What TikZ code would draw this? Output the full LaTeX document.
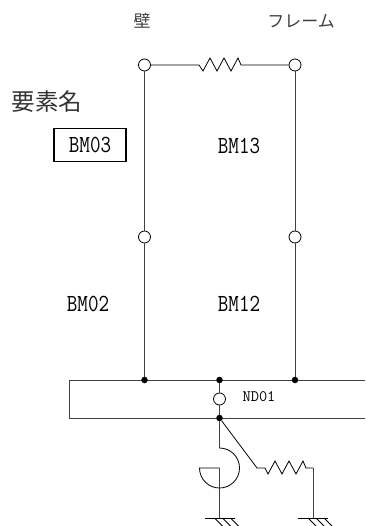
\documentclass[tikz,border=0pt]{standalone}
\usepackage{fontspec}
\newfontfamily\cjk{Noto Sans CJK JP}
\newcommand{\tallbm}[1]{\scalebox{1}[1.2]{#1}}
\begin{document}
\begin{tikzpicture}[x=1pt,y=-1pt]
\tikzstyle{every node}=[inner sep=0pt]
\tikzset{
  pin/.style={circle,draw,fill=white,minimum size=12pt,line width=0.8pt},
  joint/.style={circle,fill=black,minimum size=6.5pt},
  beam/.style={line width=0.9pt,draw=black!75},
  label/.style={font=\ttfamily\fontsize{20.5}{20.5}\selectfont,text=black},
  small/.style={font=\ttfamily\fontsize{16}{16}\selectfont,text=black},
  title/.style={font=\cjk\fontsize{17}{17}\selectfont\color{black!75}},
  zig/.style={line width=0.8pt}
}
\useasboundingbox (0,0) rectangle (365,526);
\clip (0,0) rectangle (365,526);
% bar
\draw [beam] (365,380) -- (69.5,380) -- (69.5,418) -- (365,418);
% nodes
\node [joint] (j1) at (144.5,380) {};
\node [joint] (j2) at (219.5,380) {};
\node [joint] (j3) at (295,380) {};
\node [joint] (j4) at (219.5,418) {};
\node [pin] (p1) at (144.5,65) {};
\node [pin] (p2) at (295,65) {};
\node [pin] (p3) at (144.5,237) {};
\node [pin] (p4) at (295,237) {};
\node [pin] (p5) at (219.5,399) {};
\coordinate (g1) at (219.5,518);
\coordinate (g2) at (313,518);
\coordinate (c1) at (219.5,448);
\coordinate (c2) at (219.5,468);
\coordinate (s1) at (257,468);
\coordinate (s2) at (313,468);
% texts
\node [title] (wall) at (142,21) {壁};
\node [title] (frame) at (301,21) {フレーム};
\node [font=\cjk\fontsize{23.5}{23.5}\selectfont\color{black!80}] (name) at (47,102) {要素名};
\node [label,draw=black,line width=1.3pt,minimum width=72pt,minimum height=33pt] (bm03) at (90,145) {\tallbm{BM03}};
\node [label] (bm13) at (239,146) {\tallbm{BM13}};
\node [label] (bm02) at (88,304) {\tallbm{BM02}};
\node [label] (bm12) at (239,304) {\tallbm{BM12}};
\node [small] (nd01) at (259,397) {ND01};
% members
\draw [beam] (p1) -- (p3);
\draw [beam] (p3) -- (j1);
\draw [beam] (p2) -- (p4);
\draw [beam] (p4) -- (j3);
\draw [beam] (j2) -- (p5);
\draw [beam] (p5) -- (j4);
\draw [zig] (p1) -- (199,65) -- (203,71) -- (210,58) -- (217,71) -- (224,58) -- (231,71) -- (238,58) -- (241,65) -- (p2);
% damper
\draw [beam] (j4) -- (c1);
\draw [zig] (c1) arc (-90:180:20) -- (c2);
\draw [beam] (c2) -- (g1);
% spring
\draw [zig] (j4) -- (s1) -- (265,468) -- (268,474) -- (275,461) -- (282,474) -- (289,461) -- (296,474) -- (303,461) -- (306,468) -- (s2);
\draw [beam] (s2) -- (g2);
% ground
\foreach \g in {g1,g2} {
  \draw [zig] ([xshift=-15pt]\g) -- ([xshift=15pt]\g);
  \foreach \d in {-5,3,11}
    \draw [zig] ([xshift=\d pt]\g) -- ([xshift=\d pt+8pt,yshift=-8pt]\g);
}
\end{tikzpicture}
\end{document}
